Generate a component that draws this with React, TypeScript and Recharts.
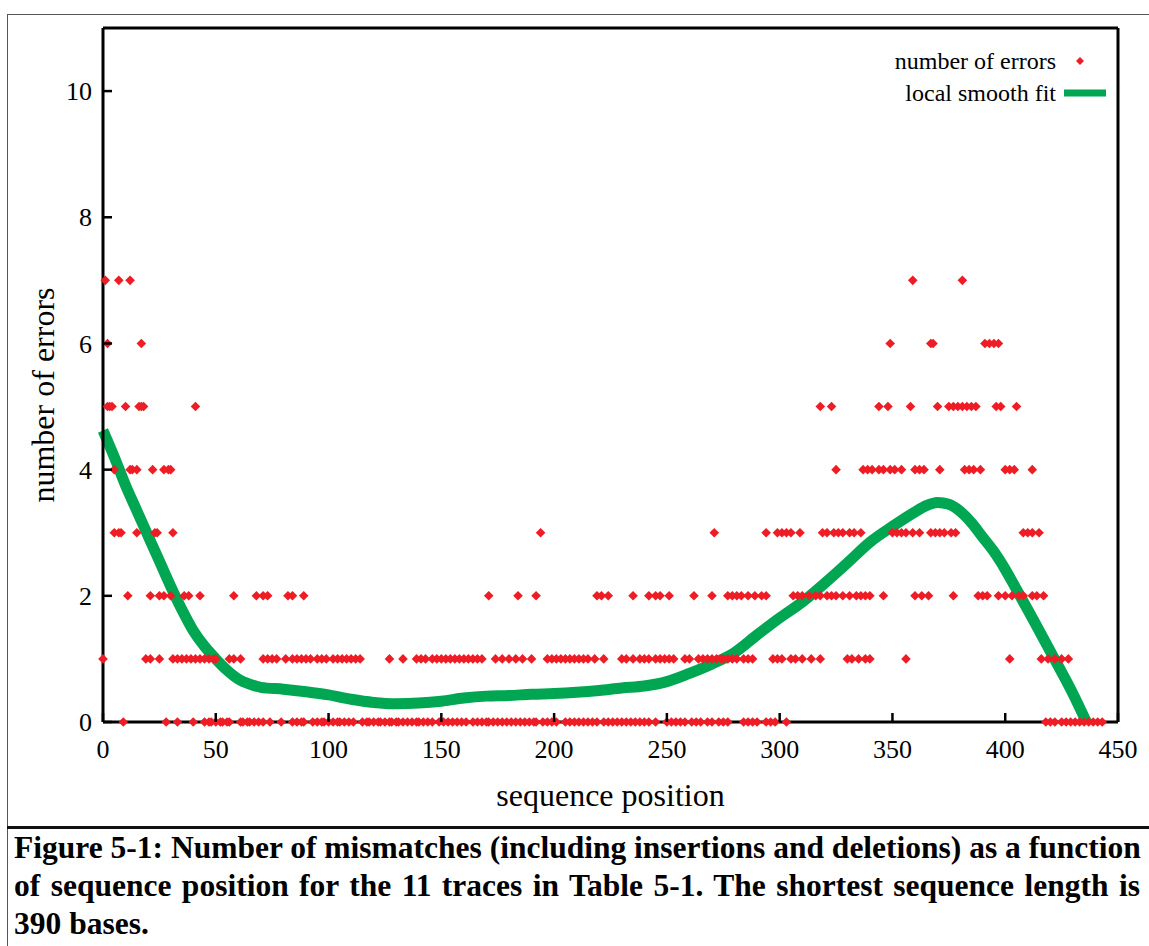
import { ComposedChart, Legend, Line, Scatter, XAxis, YAxis } from "recharts";

const SERIF = '"Liberation Serif", "Times New Roman", serif';
const RED = "#ee1d25";
const GREEN = "#00a651";

const xTicks = [0, 50, 100, 150, 200, 250, 300, 350, 400, 450];
const yTicks = [0, 2, 4, 6, 8, 10];

// sequence positions that showed a given number of errors
const errors0 = [
  9, 28, 33, 40, 45, 47, 48, 50, 52, 53, 55, 56, 61, 62, 64, 65, 67, 69, 71, 74, 79, 84, 86, 88, 89,
  93, 95, 97, 98, 100, 102, 104, 105, 107, 109, 111, 115, 117, 118, 120, 122, 123, 125, 127, 128,
  130, 131, 133, 135, 137, 139, 140, 142, 144, 146, 149, 151, 153, 155, 157, 159, 161, 164, 166,
  168, 170, 171, 173, 175, 177, 179, 181, 183, 185, 187, 189, 191, 192, 195, 197, 199, 201, 205,
  207, 209, 211, 213, 215, 217, 219, 222, 224, 226, 228, 230, 232, 234, 236, 238, 240, 242, 245,
  250, 252, 254, 256, 258, 261, 263, 265, 268, 270, 273, 275, 277, 284, 286, 288, 290, 294, 296,
  298, 303, 418, 420, 422, 425, 427, 429, 431, 433, 435, 437, 439, 441, 443,
];
const errors1 = [
  0, 19, 21, 25, 31, 33, 35, 37, 39, 41, 43, 45, 47, 49, 50, 56, 58, 61, 71, 73, 75, 77, 81, 84, 86,
  88, 90, 92, 95, 97, 99, 102, 104, 106, 108, 110, 112, 114, 127, 133, 139, 141, 143, 146, 148,
  150, 152, 154, 156, 158, 160, 162, 164, 166, 168, 174, 177, 180, 183, 186, 190, 197, 199, 201,
  203, 205, 207, 209, 211, 213, 215, 218, 222, 230, 232, 235, 238, 240, 242, 245, 247, 249, 251,
  253, 258, 260, 264, 266, 268, 270, 272, 274, 275, 277, 279, 281, 284, 286, 288, 297, 299, 301,
  305, 307, 310, 314, 318, 330, 332, 335, 338, 340, 356, 402, 416, 419, 422, 425, 428,
];
const errors2 = [
  11, 21, 25, 27, 30, 36, 38, 43, 58, 68, 71, 73, 82, 84, 89, 171, 184, 192, 219, 221, 224, 235,
  242, 245, 247, 251, 262, 270, 277, 279, 281, 283, 286, 289, 292, 294, 306, 308, 310, 313, 316,
  318, 321, 323, 325, 328, 331, 334, 336, 338, 340, 346, 360, 363, 366, 377, 388, 390, 392, 397,
  400, 403, 406, 408, 412, 414, 417,
];
const errors3 = [
  5, 7, 8, 15, 23, 24, 31, 194, 271, 294, 299, 301, 303, 305, 309, 319, 321, 324, 326, 328, 331,
  333, 336, 350, 352, 354, 356, 359, 362, 367, 369, 371, 373, 376, 378, 408, 410, 412, 415,
];
const errors4 = [
  5, 12, 13, 15, 22, 27, 29, 30, 325, 337, 339, 341, 344, 346, 349, 351, 354, 360, 362, 364, 371,
  382, 384, 386, 389, 400, 402, 404, 412,
];
const errors5 = [
  2, 3, 4, 10, 16, 17, 18, 41, 318, 323, 344, 348, 358, 370, 375, 377, 379, 381, 383, 385, 387,
  396, 398, 405,
];
const errors6 = [2, 17, 349, 367, 368, 391, 393, 395, 397];
const errors7 = [1, 7, 12, 359, 381];

// local smooth fit
const fitX = [
  0, 5, 10, 15, 20, 25, 30, 35, 40, 45, 50, 55, 60, 65, 70, 80, 90, 100, 110, 120, 130, 140, 150,
  160, 170, 180, 190, 200, 210, 220, 230, 240, 250, 260, 270, 280, 290, 300, 310, 320, 330, 340,
  350, 360, 365, 370, 375, 380, 385, 390, 395, 400, 405, 410, 420, 430, 436,
];
const fitY = [
  4.62, 4.2, 3.75, 3.35, 2.95, 2.55, 2.15, 1.78, 1.45, 1.2, 1.0, 0.82, 0.68, 0.6, 0.55, 0.52, 0.48,
  0.43, 0.36, 0.31, 0.29, 0.3, 0.33, 0.38, 0.41, 0.42, 0.44, 0.45, 0.47, 0.5, 0.54, 0.57, 0.64,
  0.77, 0.92, 1.1, 1.38, 1.65, 1.9, 2.2, 2.52, 2.85, 3.1, 3.33, 3.43, 3.48, 3.45, 3.34, 3.16, 2.93,
  2.7, 2.42, 2.1, 1.78, 1.12, 0.45, 0,
];

const byCount = [errors0, errors1, errors2, errors3, errors4, errors5, errors6, errors7];
const errorPoints = byCount.flatMap((xs, n) => xs.map((x) => ({ x, y: n })));
const fitPoints = fitX.map((x, i) => ({ x, y: fitY[i] }));

const TICK_LEN = 9;
const TICK_MARGIN = 10;
const AXIS = { stroke: "#000", strokeWidth: 3 };

function Diamond(props: any) {
  const { cx, cy } = props;
  const r = 4.8;
  return (
    <polygon
      points={`${cx},${cy - r} ${cx + r},${cy} ${cx},${cy + r} ${cx - r},${cy}`}
      fill={RED}
    />
  );
}

function BottomTick(props: any) {
  const { x, y, payload } = props;
  const axisY = y - TICK_MARGIN;
  return (
    <g>
      <line x1={x} x2={x} y1={axisY} y2={axisY - TICK_LEN} stroke="#000" strokeWidth={2.5} />
      <text x={x} y={axisY + 36} textAnchor="middle" fontFamily={SERIF} fontSize={26} fill="#000">
        {payload.value}
      </text>
    </g>
  );
}

function TopTick(props: any) {
  const { x, y } = props;
  const axisY = y + TICK_MARGIN;
  return <line x1={x} x2={x} y1={axisY} y2={axisY + TICK_LEN} stroke="#000" strokeWidth={2.5} />;
}

function LeftTick(props: any) {
  const { x, y, payload } = props;
  const axisX = x + TICK_MARGIN;
  return (
    <g>
      <line x1={axisX} x2={axisX + TICK_LEN} y1={y} y2={y} stroke="#000" strokeWidth={2.5} />
      <text x={axisX - 11} y={y} dy="0.35em" textAnchor="end" fontFamily={SERIF} fontSize={26} fill="#000">
        {payload.value}
      </text>
    </g>
  );
}

function RightTick(props: any) {
  const { x, y } = props;
  const axisX = x - TICK_MARGIN;
  return <line x1={axisX} x2={axisX - TICK_LEN} y1={y} y2={y} stroke="#000" strokeWidth={2.5} />;
}

function YTitle(props: any) {
  const { viewBox } = props;
  const bx = viewBox.x + 11;
  const by = viewBox.y + viewBox.height / 2 + 20;
  return (
    <text
      x={bx}
      y={by}
      transform={`rotate(-90 ${bx} ${by})`}
      textAnchor="middle"
      fontFamily={SERIF}
      fontSize={32}
      fill="#000"
    >
      number of errors
    </text>
  );
}

function XTitle(props: any) {
  const { viewBox } = props;
  return (
    <text
      x={viewBox.x + viewBox.width / 2}
      y={viewBox.y + 84}
      textAnchor="middle"
      fontFamily={SERIF}
      fontSize={32}
      fill="#000"
    >
      sequence position
    </text>
  );
}

function LegendBox() {
  const row = { display: "flex", alignItems: "center", justifyContent: "flex-end", height: 32 };
  return (
    <div style={{ fontFamily: SERIF, fontSize: 24, color: "#000" }}>
      <div style={row}>
        <span style={{ marginRight: 4 }}>number of errors</span>
        <svg width={50} height={14}>
          <polygon points="20,3 24,7 20,11 16,7" fill={RED} />
        </svg>
      </div>
      <div style={row}>
        <span style={{ marginRight: 4 }}>local smooth fit</span>
        <svg width={50} height={14}>
          <line x1={4} x2={46} y1={7} y2={7} stroke={GREEN} strokeWidth={7} />
        </svg>
      </div>
    </div>
  );
}

const captionLines = [
  "Figure 5-1: Number of mismatches (including insertions and deletions) as a function",
  "of sequence position for the 11 traces in Table 5-1. The shortest sequence length is",
  "390 bases.",
];

export default function App() {
  return (
    <div style={{ position: "absolute", left: 0, top: 0, width: 1149, height: 946, background: "#fff", overflow: "hidden" }}>
      <div
        style={{
          position: "absolute",
          left: 7,
          top: 14,
          width: 1149,
          height: 946,
          borderTop: "1.5px solid #555",
          borderLeft: "1.5px solid #555",
        }}
      />
      <div style={{ position: "absolute", left: 7, top: 826, width: 1149, height: 3, background: "#111" }} />
      <div
        style={{
          position: "absolute",
          left: 14,
          top: 829,
          width: 1126,
          fontFamily: SERIF,
          fontWeight: "bold",
          fontSize: 31.5,
          lineHeight: "38px",
          color: "#000",
          whiteSpace: "nowrap",
        }}
      >
        {captionLines.map((t, i) => (
          <div key={t} style={{ textAlignLast: i < captionLines.length - 1 ? "justify" : "left" }}>
            {t}
          </div>
        ))}
      </div>
      <div style={{ position: "absolute", left: 0, top: 0 }}>
        <ComposedChart width={1149} height={946} margin={{ top: 27, right: 30, bottom: 124, left: 43 }}>
          <XAxis
            type="number"
            dataKey="x"
            domain={[0, 450]}
            ticks={xTicks}
            height={100}
            tickSize={0}
            tickMargin={TICK_MARGIN}
            tickLine={false}
            tick={BottomTick}
            axisLine={AXIS}
            label={{ content: XTitle }}
          />
          <XAxis
            xAxisId="top"
            orientation="top"
            type="number"
            domain={[0, 450]}
            ticks={xTicks}
            height={1}
            tickSize={0}
            tickMargin={TICK_MARGIN}
            tickLine={false}
            tick={TopTick}
            axisLine={AXIS}
          />
          <YAxis
            type="number"
            domain={[0, 11]}
            ticks={yTicks}
            width={60}
            tickSize={0}
            tickMargin={TICK_MARGIN}
            tickLine={false}
            tick={LeftTick}
            axisLine={AXIS}
            label={{ content: YTitle }}
          />
          <YAxis
            yAxisId="right"
            orientation="right"
            type="number"
            domain={[0, 11]}
            ticks={yTicks}
            width={1}
            tickSize={0}
            tickMargin={TICK_MARGIN}
            tickLine={false}
            tick={RightTick}
            axisLine={AXIS}
          />
          <Legend
            layout="horizontal"
            verticalAlign="middle"
            align="center"
            content={<LegendBox />}
            wrapperStyle={{ top: 45, right: 39, left: "auto", width: "auto", bottom: "auto" }}
          />
          <Scatter
            name="number of errors"
            data={errorPoints}
            dataKey="y"
            shape={Diamond}
            isAnimationActive={false}
          />
          <Line
            name="local smooth fit"
            data={fitPoints}
            dataKey="y"
            type="monotone"
            stroke={GREEN}
            strokeWidth={11}
            dot={false}
            activeDot={false}
            isAnimationActive={false}
          />
        </ComposedChart>
      </div>
    </div>
  );
}
